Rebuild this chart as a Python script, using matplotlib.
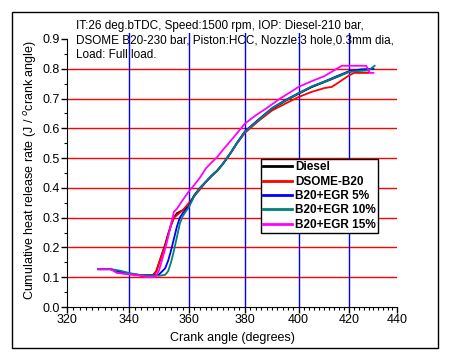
import numpy as np
import matplotlib
matplotlib.use("Agg")
import matplotlib.pyplot as plt
from matplotlib.patches import Rectangle
from matplotlib.ticker import MultipleLocator

# data (crank angle in degrees, cumulative HRR)
diesel_ca = [330, 334, 336, 340, 344, 348, 349, 350, 351, 352, 353, 354, 355, 356, 358, 360,
             362, 364, 366, 368, 370, 372, 375, 377, 380, 385, 390, 395, 400, 405, 410, 415, 420, 425, 428]
diesel = [0.127, 0.127, 0.118, 0.112, 0.106, 0.108, 0.12, 0.15, 0.18, 0.21, 0.245, 0.275, 0.30, 0.315, 0.325, 0.337,
          0.375, 0.40, 0.42, 0.44, 0.457, 0.48, 0.52, 0.549, 0.588, 0.628, 0.665, 0.692, 0.716, 0.738, 0.755, 0.772, 0.79, 0.795, 0.795]

dsome_ca = [330, 334, 336, 340, 344, 348, 349, 350, 351, 352, 353, 354, 355, 356, 358, 360,
            362, 364, 366, 368, 370, 372, 375, 377, 380, 385, 390, 395, 400, 405, 410, 413, 415, 420, 422, 428]
dsome = [0.127, 0.127, 0.115, 0.11, 0.106, 0.108, 0.12, 0.15, 0.18, 0.205, 0.24, 0.275, 0.30, 0.308, 0.325, 0.348,
         0.372, 0.395, 0.42, 0.44, 0.457, 0.48, 0.52, 0.548, 0.585, 0.625, 0.66, 0.683, 0.705, 0.722, 0.735, 0.739, 0.75, 0.778, 0.786, 0.786]

egr5_ca = [330, 334, 336, 340, 344, 348, 350, 352, 353, 354, 355, 356, 357, 358, 359, 360,
           362, 364, 366, 368, 370, 372, 375, 377, 380, 385, 390, 395, 400, 405, 410, 415, 420, 425, 430]
egr5 = [0.127, 0.127, 0.12, 0.112, 0.106, 0.105, 0.11, 0.13, 0.155, 0.19, 0.23, 0.27, 0.30, 0.315, 0.325, 0.338,
        0.375, 0.40, 0.42, 0.44, 0.458, 0.48, 0.52, 0.55, 0.59, 0.63, 0.668, 0.695, 0.718, 0.74, 0.757, 0.775, 0.792, 0.798, 0.80]

egr10_ca = [330, 334, 337, 340, 344, 348, 350, 352, 353, 354, 355, 356, 357, 358, 359, 360,
            362, 364, 366, 368, 370, 372, 375, 377, 380, 385, 390, 395, 400, 405, 410, 415, 420, 425, 428, 430.5]
egr10 = [0.127, 0.127, 0.122, 0.114, 0.107, 0.105, 0.105, 0.108, 0.12, 0.15, 0.19, 0.235, 0.28, 0.305, 0.32, 0.333,
         0.373, 0.40, 0.42, 0.44, 0.457, 0.48, 0.52, 0.549, 0.588, 0.628, 0.667, 0.693, 0.717, 0.74, 0.756, 0.773, 0.79, 0.793, 0.795, 0.81]

egr15_ca = [330, 334, 336, 340, 344, 346, 348, 349, 350, 351, 352, 353, 354, 355, 356, 358, 360,
            362, 364, 366, 368, 370, 372, 376, 380, 384, 388, 393, 397, 400, 405, 410, 413, 417, 420, 427, 428.5, 430]
egr15 = [0.127, 0.127, 0.115, 0.11, 0.105, 0.10, 0.10, 0.105, 0.125, 0.16, 0.195, 0.235, 0.28, 0.32, 0.33, 0.359, 0.387,
         0.41, 0.435, 0.465, 0.485, 0.503, 0.527, 0.571, 0.616, 0.644, 0.668, 0.70, 0.722, 0.739, 0.758, 0.775, 0.79, 0.81, 0.81, 0.81, 0.786, 0.786]

series = [
    (diesel_ca, diesel, "Diesel", "black"),
    (dsome_ca, dsome, "DSOME-B20", "#ff0000"),
    (egr5_ca, egr5, "B20+EGR 5%", "#0000ff"),
    (egr10_ca, egr10, "B20+EGR 10%", "#008080"),
    (egr15_ca, egr15, "B20+EGR 15%", "#ff00ff"),
]

note = ("IT:26 deg.bTDC, Speed:1500 rpm, IOP: Diesel-210 bar,\n"
        "DSOME B20-230 bar, Piston:HCC, Nozzle:3 hole,0.3mm dia,\n"
        "Load: Full load.")

# the x axis in the source image gets squeezed toward the right
B, C = 63.7, -1.444


def fwd(x):
    t = (np.asarray(x, dtype=float) - 320) / 20
    return B * t + C * t ** 2


def inv(p):
    p = np.asarray(p, dtype=float)
    d = np.clip(B ** 2 + 4 * C * p, 0, None)
    return 320 + 20 * (-B + np.sqrt(d)) / (2 * C)


plt.rcParams['font.family'] = ['Liberation Sans', 'DejaVu Sans']

fig = plt.figure(figsize=(4.53, 3.63), dpi=100)
ax = fig.add_axes([67 / 453, 1 - 307 / 363, 330 / 453, 274 / 363])
ax.set_xscale('function', functions=(fwd, inv))

for xs, ys, lab, col in series:
    ax.plot(xs, ys, color=col, lw=1.3, label=lab)

ax.set_xlim(320, 440)
ax.set_ylim(0, 0.92)
ax.set_xticks([320, 340, 360, 380, 400, 420, 440])
ax.xaxis.set_minor_locator(MultipleLocator(2))
ax.set_yticks(np.arange(0, 0.91, 0.1))
ax.yaxis.set_minor_locator(MultipleLocator(0.05))
ax.yaxis.set_major_formatter(plt.FormatStrFormatter('%.1f'))

for v in np.arange(0.1, 0.81, 0.1):
    ax.axhline(v, color='#ff0000', lw=1, zorder=0)
for v in [340, 360, 380, 400, 420]:
    ax.axvline(v, color='#0000ff', lw=1, zorder=0)

ax.spines['top'].set_visible(False)
ax.spines['right'].set_visible(False)
ax.spines['left'].set_bounds(0, 0.9)
ax.tick_params(which='major', length=4, width=1, labelsize=9, pad=1)
ax.tick_params(which='minor', length=2.5, width=0.8)

ax.set_xlabel('Crank angle (degrees)', fontsize=9, labelpad=4)
ax.set_ylabel('Cumulative heat release rate (J / $^{o}$crank angle)', fontsize=9, labelpad=3)

ax.text(76 / 453, 1 - 20 / 363, note, transform=fig.transFigure, fontsize=8.5,
        va='top', ha='left', linespacing=1.25)

leg = ax.legend(loc='upper left', bbox_to_anchor=(261 / 453, 1 - 159 / 363),
                bbox_transform=fig.transFigure, fancybox=False, edgecolor='black',
                framealpha=1, borderpad=0.2, labelspacing=0.2, handlelength=2.4,
                handletextpad=0.3, borderaxespad=0, prop={'size': 8.5, 'weight': 'bold'})
leg.get_frame().set_linewidth(1)
for ln in leg.get_lines():
    ln.set_linewidth(2)

# outer frame around the whole chart
fig.patches.append(Rectangle((12 / 453, 1 - 348 / 363), 426 / 453, 336 / 363,
                             transform=fig.transFigure, fill=False, lw=1, ec='black'))

fig.savefig('out.png', dpi=100)
